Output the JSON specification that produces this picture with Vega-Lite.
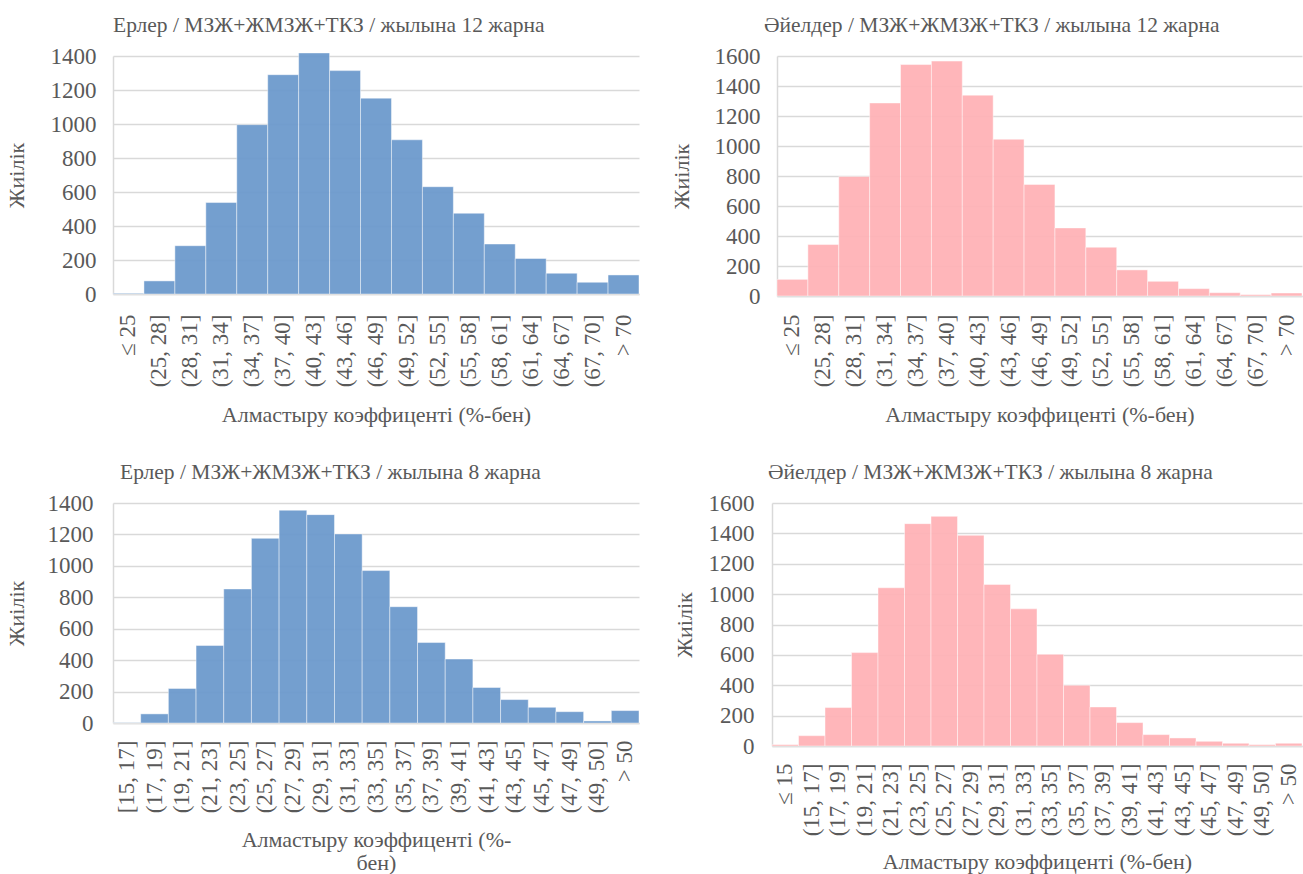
{
  "$schema": "https://vega.github.io/schema/vega-lite/v6.json",
  "padding": {"left": 5, "top": 14, "right": 0, "bottom": 0},
  "spacing": 35,
  "datasets": {
    "m12": [
      {"bin": "≤ 25", "count": 4},
      {"bin": "(25, 28]", "count": 77},
      {"bin": "(28, 31]", "count": 284},
      {"bin": "(31, 34]", "count": 538},
      {"bin": "(34, 37]", "count": 996},
      {"bin": "(37, 40]", "count": 1290},
      {"bin": "(40, 43]", "count": 1418},
      {"bin": "(43, 46]", "count": 1314},
      {"bin": "(46, 49]", "count": 1152},
      {"bin": "(49, 52]", "count": 907},
      {"bin": "(52, 55]", "count": 631},
      {"bin": "(55, 58]", "count": 475},
      {"bin": "(58, 61]", "count": 294},
      {"bin": "(61, 64]", "count": 209},
      {"bin": "(64, 67]", "count": 122},
      {"bin": "(67, 70]", "count": 69},
      {"bin": "> 70", "count": 112}
    ],
    "f12": [
      {"bin": "≤ 25", "count": 111},
      {"bin": "(25, 28]", "count": 343},
      {"bin": "(28, 31]", "count": 797},
      {"bin": "(31, 34]", "count": 1287},
      {"bin": "(34, 37]", "count": 1543},
      {"bin": "(37, 40]", "count": 1566},
      {"bin": "(40, 43]", "count": 1339},
      {"bin": "(43, 46]", "count": 1045},
      {"bin": "(46, 49]", "count": 744},
      {"bin": "(49, 52]", "count": 454},
      {"bin": "(52, 55]", "count": 325},
      {"bin": "(55, 58]", "count": 174},
      {"bin": "(58, 61]", "count": 98},
      {"bin": "(61, 64]", "count": 49},
      {"bin": "(64, 67]", "count": 22},
      {"bin": "(67, 70]", "count": 9},
      {"bin": "> 70", "count": 20}
    ],
    "m8": [
      {"bin": "[15, 17]", "count": 2},
      {"bin": "(17, 19]", "count": 58},
      {"bin": "(19, 21]", "count": 220},
      {"bin": "(21, 23]", "count": 493},
      {"bin": "(23, 25]", "count": 853},
      {"bin": "(25, 27]", "count": 1175},
      {"bin": "(27, 29]", "count": 1354},
      {"bin": "(29, 31]", "count": 1326},
      {"bin": "(31, 33]", "count": 1203},
      {"bin": "(33, 35]", "count": 970},
      {"bin": "(35, 37]", "count": 740},
      {"bin": "(37, 39]", "count": 512},
      {"bin": "(39, 41]", "count": 407},
      {"bin": "(41, 43]", "count": 226},
      {"bin": "(43, 45]", "count": 149},
      {"bin": "(45, 47]", "count": 100},
      {"bin": "(47, 49]", "count": 72},
      {"bin": "(49, 50]", "count": 13},
      {"bin": "> 50", "count": 79}
    ],
    "f8": [
      {"bin": "≤ 15", "count": 9},
      {"bin": "(15, 17]", "count": 68},
      {"bin": "(17, 19]", "count": 253},
      {"bin": "(19, 21]", "count": 615},
      {"bin": "(21, 23]", "count": 1042},
      {"bin": "(23, 25]", "count": 1464},
      {"bin": "(25, 27]", "count": 1512},
      {"bin": "(27, 29]", "count": 1387},
      {"bin": "(29, 31]", "count": 1064},
      {"bin": "(31, 33]", "count": 903},
      {"bin": "(33, 35]", "count": 604},
      {"bin": "(35, 37]", "count": 400},
      {"bin": "(37, 39]", "count": 257},
      {"bin": "(39, 41]", "count": 154},
      {"bin": "(41, 43]", "count": 75},
      {"bin": "(43, 45]", "count": 53},
      {"bin": "(45, 47]", "count": 31},
      {"bin": "(47, 49]", "count": 18},
      {"bin": "(49, 50]", "count": 9},
      {"bin": "> 50", "count": 18}
    ]
  },
  "vconcat": [
    {
      "spacing": 30,
      "hconcat": [
        {
          "width": 526, "height": 238,
          "data": {"name": "m12"},
          "title": {"text": "Ерлер / МЗЖ+ЖМЗЖ+ТКЗ / жылына 12 жарна", "dx": 0, "offset": 9},
          "mark": {"type": "bar", "color": "#6D9ACD", "opacity": 0.95, "stroke": "#ffffff", "strokeWidth": 1, "strokeOpacity": 0.45},
          "encoding": {
            "x": {"field": "bin", "type": "nominal", "sort": null, "scale": {"paddingInner": 0, "paddingOuter": 0},
                  "axis": {"title": "Алмастыру коэффиценті (%-бен)", "labelPadding": 20, "titlePadding": 18}},
            "y": {"field": "count", "type": "quantitative", "scale": {"domain": [0, 1400], "nice": false},
                  "axis": {"values": [0, 200, 400, 600, 800, 1000, 1200, 1400], "format": "d", "title": "Жиілік", "labelPadding": 17, "titlePadding": 22}}
          }
        },
        {
          "width": 525, "height": 240,
          "data": {"name": "f12"},
          "title": {"text": "Әйелдер / МЗЖ+ЖМЗЖ+ТКЗ / жылына 12 жарна", "dx": -13, "offset": 9},
          "mark": {"type": "bar", "color": "#FFB3B7", "opacity": 0.95, "stroke": "#ffffff", "strokeWidth": 1, "strokeOpacity": 0.45},
          "encoding": {
            "x": {"field": "bin", "type": "nominal", "sort": null, "scale": {"paddingInner": 0, "paddingOuter": 0},
                  "axis": {"title": "Алмастыру коэффиценті (%-бен)", "labelPadding": 18, "titlePadding": 18}},
            "y": {"field": "count", "type": "quantitative", "scale": {"domain": [0, 1600], "nice": false},
                  "axis": {"values": [0, 200, 400, 600, 800, 1000, 1200, 1400, 1600], "format": "d", "title": "Жиілік", "labelPadding": 17, "titlePadding": 21}}
          }
        }
      ]
    },
    {
      "spacing": 33,
      "hconcat": [
        {
          "width": 526, "height": 220,
          "data": {"name": "m8"},
          "title": {"text": "Ерлер / МЗЖ+ЖМЗЖ+ТКЗ / жылына 8 жарна", "dx": 7, "offset": 9},
          "mark": {"type": "bar", "color": "#6D9ACD", "opacity": 0.95, "stroke": "#ffffff", "strokeWidth": 1, "strokeOpacity": 0.45},
          "encoding": {
            "x": {"field": "bin", "type": "nominal", "sort": null, "scale": {"paddingInner": 0, "paddingOuter": 0},
                  "axis": {"title": ["Алмастыру коэффиценті (%-", "бен)"], "labelPadding": 17, "titlePadding": 17, "titleLineHeight": 23}},
            "y": {"field": "count", "type": "quantitative", "scale": {"domain": [0, 1400], "nice": false},
                  "axis": {"values": [0, 200, 400, 600, 800, 1000, 1200, 1400], "format": "d", "title": "Жиілік", "labelPadding": 20, "titlePadding": 19}}
          }
        },
        {
          "width": 530, "height": 243,
          "data": {"name": "f8"},
          "title": {"text": "Әйелдер / МЗЖ+ЖМЗЖ+ТКЗ / жылына 8 жарна", "dx": -4, "offset": 9},
          "mark": {"type": "bar", "color": "#FFB3B7", "opacity": 0.95, "stroke": "#ffffff", "strokeWidth": 1, "strokeOpacity": 0.45},
          "encoding": {
            "x": {"field": "bin", "type": "nominal", "sort": null, "scale": {"paddingInner": 0, "paddingOuter": 0},
                  "axis": {"title": "Алмастыру коэффиценті (%-бен)", "labelPadding": 17, "titlePadding": 16}},
            "y": {"field": "count", "type": "quantitative", "scale": {"domain": [0, 1600], "nice": false},
                  "axis": {"values": [0, 200, 400, 600, 800, 1000, 1200, 1400, 1600], "format": "d", "title": "Жиілік", "labelPadding": 18, "titlePadding": 12}}
          }
        }
      ]
    }
  ],
  "config": {
    "view": {"stroke": null},
    "font": "Times New Roman, Liberation Serif, DejaVu Serif, serif",
    "axis": {
      "labelFont": "Times New Roman, Liberation Serif, DejaVu Serif, serif", "labelFontSize": 23, "labelColor": "#595959",
      "titleFont": "Times New Roman, Liberation Serif, DejaVu Serif, serif", "titleFontSize": 22, "titleFontWeight": "normal", "titleColor": "#595959",
      "ticks": false, "domainColor": "#d9d9d9", "domainWidth": 1.5, "gridColor": "#d9d9d9", "gridWidth": 1.5,
      "labelOverlap": false
    },
    "axisX": {"grid": false, "labelAngle": -90},
    "axisY": {"grid": true},
    "title": {"font": "Times New Roman, Liberation Serif, DejaVu Serif, serif", "fontSize": 21.5, "fontWeight": "normal", "color": "#595959", "anchor": "start", "frame": "group"}
  }
}
